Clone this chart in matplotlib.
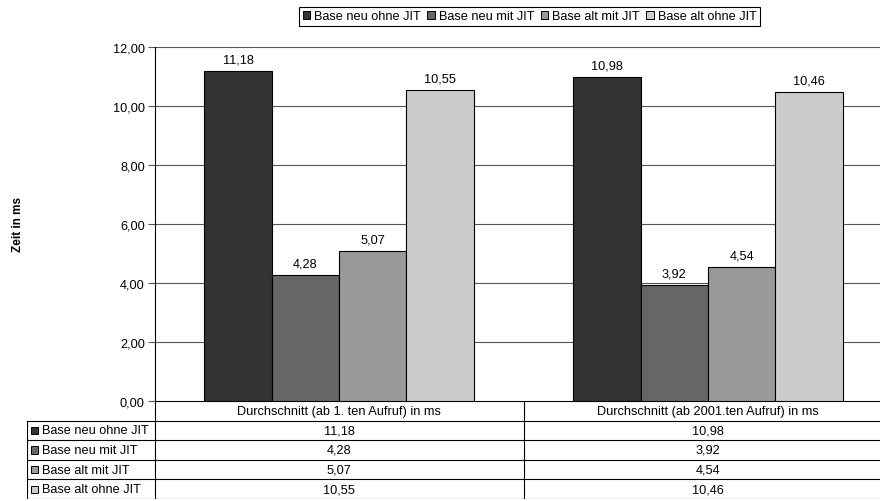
import matplotlib.pyplot as plt
import numpy as np
from matplotlib.patches import Patch, Rectangle

plt.rcParams['font.family'] = ['Liberation Sans', 'DejaVu Sans']
plt.rcParams['font.size'] = 9.2

categories = ['Durchschnitt (ab 1. ten Aufruf) in ms', 'Durchschnitt (ab 2001.ten Aufruf) in ms']
series = ['Base neu ohne JIT', 'Base neu mit JIT', 'Base alt mit JIT', 'Base alt ohne JIT']
values = [
    [11.18, 10.98],
    [4.28, 3.92],
    [5.07, 4.54],
    [10.55, 10.46],
]
colors = ['#333333', '#666666', '#999999', '#cccccc']
yticks = [0, 2, 4, 6, 8, 10, 12]

def fmt(v):
    return f'{v:.2f}'.replace('.', ',')

W, H = 880, 502
fig = plt.figure(figsize=(W / 100, H / 100), dpi=100)

# plot area, right edge runs past the figure border
left, right, top, bottom = 154.5, 892.5, 48, 402
ax = fig.add_axes([left / W, 1 - bottom / H, (right - left) / W, (bottom - top) / H])

n = len(series)
bw = 0.73 / n
x = np.arange(len(categories))
for i, (name, vals) in enumerate(zip(series, values)):
    pos = x + (i - (n - 1) / 2) * bw
    bars = ax.bar(pos, vals, bw, color=colors[i], edgecolor='black', linewidth=0.8, zorder=3)
    for b, v in zip(bars, vals):
        ax.annotate(fmt(v), (b.get_x() + b.get_width() / 2, v), xytext=(0, 4),
                    textcoords='offset points', ha='center', va='bottom')

ax.set_xlim(-0.5, len(categories) - 0.5)
ax.set_ylim(0, 12)
ax.set_yticks(yticks)
ax.set_yticklabels([fmt(t) for t in yticks])
ax.set_xticks([])
ax.yaxis.grid(True, color='#555555', linewidth=0.8, zorder=0)
for s in ['top', 'right', 'bottom']:
    ax.spines[s].set_visible(False)
ax.spines['left'].set_linewidth(0.8)
ax.tick_params(axis='y', length=5, width=0.8, pad=2, color='#555555')

fig.text(18 / W, 1 - 225 / H, 'Zeit in ms', rotation=90, ha='center', va='center',
         fontweight='bold', fontsize=8.5)

# data table below the plot
t0, t1 = 27, 892.5
tab = fig.add_axes([t0 / W, 1 - 500 / H, (t1 - t0) / W, 98 / H])
tab.set_xlim(0, t1 - t0)
tab.set_ylim(5, 0)
tab.axis('off')
lab_w = left - t0
col_w = (right - left) / len(categories)
lw = 0.8
# header row
tab.plot([lab_w, t1 - t0], [0, 0], color='black', lw=lw)
for j, c in enumerate(categories):
    tab.text(lab_w + (j + 0.5) * col_w, 0.5, c, ha='center', va='center')
for r in range(1, 6):
    tab.plot([0, t1 - t0], [r, r], color='black', lw=lw, solid_capstyle='butt')
tab.plot([0, 0], [1, 5], color='black', lw=lw)
for j in range(len(categories) + 1):
    tab.plot([lab_w + j * col_w] * 2, [0, 5], color='black', lw=lw)
for i, name in enumerate(series):
    tab.add_patch(Rectangle((4, i + 1.32), 7, 0.36, facecolor=colors[i],
                            edgecolor='black', linewidth=0.7))
    tab.text(15, i + 1.5, name, ha='left', va='center')
    for j in range(len(categories)):
        tab.text(lab_w + (j + 0.5) * col_w, i + 1.5, fmt(values[i][j]),
                 ha='center', va='center')

handles = [Patch(facecolor=c, edgecolor='black', linewidth=0.7) for c in colors]
leg = fig.legend(handles, series, loc='center', ncol=4,
                 bbox_to_anchor=(529.5 / W, 1 - 17.5 / H), frameon=True, fancybox=False,
                 edgecolor='black', framealpha=1, handlelength=0.6, handleheight=0.6,
                 handletextpad=0.3, columnspacing=0.5, borderpad=0.25, borderaxespad=0)
leg.get_frame().set_linewidth(0.8)

fig.savefig('out.png', dpi=100)
